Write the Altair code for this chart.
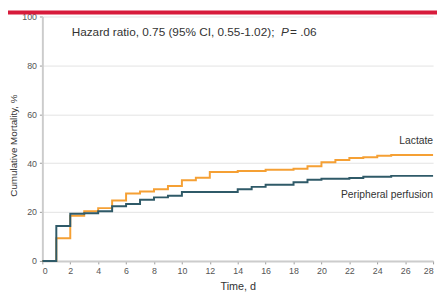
import altair as alt
import pandas as pd

pp_days = [0, 1, 2, 3, 4, 5, 6, 7, 8, 9, 10, 14, 15, 16, 18, 19, 20, 22, 23, 25, 28]
pp_vals = [0, 14.3, 19.3, 19.5, 20.3, 22.4, 23.3, 25.0, 26.0, 26.7, 28.2, 29.3, 30.3, 31.2, 32.2, 33.2, 33.6, 33.9, 34.4, 34.8, 34.8]

lac_days = [0, 1, 2, 3, 4, 5, 6, 7, 8, 9, 10, 11, 12, 14, 16, 18, 19, 20, 21, 22, 23, 24, 25, 28]
lac_vals = [0, 9.3, 18.5, 20.3, 21.6, 24.7, 27.6, 28.4, 29.3, 30.7, 33.0, 34.0, 36.4, 36.8, 37.3, 37.7, 38.7, 40.4, 41.3, 42.1, 42.4, 43.0, 43.3, 43.3]

x_ticks = list(range(0, 29, 2))
y_ticks = [0, 20, 40, 60, 80, 100]

FONT = "Liberation Sans, Arial, sans-serif"
ORANGE = "#f5a034"
TEAL = "#2f5a68"

df = pd.concat([
    pd.DataFrame({"day": lac_days, "val": lac_vals, "grp": "Lactate"}),
    pd.DataFrame({"day": pp_days, "val": pp_vals, "grp": "Peripheral perfusion"}),
])

xs = alt.Scale(domain=[0, 28], nice=False)
ys = alt.Scale(domain=[0, 100], nice=False)

x_axis = alt.Axis(
    values=x_ticks, title="Time, d", grid=False, labelFontSize=9, titleFontSize=11,
    labelOverlap=False, labelColor="#555", titleColor="#333", domainColor="#ccc", domainWidth=2,
    tickColor="#999", tickSize=3, labelPadding=3, titlePadding=5, labelFont=FONT, titleFont=FONT,
    titleFontWeight="normal")
y_axis = alt.Axis(
    values=y_ticks, title="Cumulative Mortality, %", grid=True, gridColor="#e2e2e2",
    labelFontSize=9, titleFontSize=10, labelColor="#555", titleColor="#333",
    domainColor="#ccc", domainWidth=2, tickColor="#999", tickSize=3, labelPadding=3,
    titleX=-29.5, titleY=131, titleBaseline="middle", titleAlign="center",
    labelFont=FONT, titleFont=FONT, titleFontWeight="normal")

def tx():
    return alt.X("day:Q", scale=xs, axis=x_axis)

def ty():
    return alt.Y("val:Q", scale=ys, axis=y_axis)

lines = alt.Chart(df).mark_line(interpolate="step-after", strokeWidth=2).encode(
    x=tx(), y=ty(),
    color=alt.Color("grp:N", scale=alt.Scale(domain=["Lactate", "Peripheral perfusion"], range=[ORANGE, TEAL]), legend=None),
)

lab_df = pd.DataFrame({"day": [28, 28], "val": [49.0, 27.0], "txt": ["Lactate", "Peripheral perfusion"]})
labels = alt.Chart(lab_df).mark_text(align="right", baseline="middle", font=FONT, fontSize=10.5, color="#333").encode(
    x=tx(), y=ty(), text="txt:N")

ann1 = alt.Chart(pd.DataFrame({"day": [2.1], "val": [93.5], "txt": ["Hazard ratio, 0.75 (95% CI, 0.55-1.02);"]})).mark_text(
    align="left", baseline="middle", font=FONT, fontSize=12, color="#333").encode(
    x=tx(), y=ty(), text="txt:N")
ann2 = alt.Chart(pd.DataFrame({"day": [17.1], "val": [93.5], "txt": ["P"]})).mark_text(
    align="left", baseline="middle", font=FONT, fontSize=12, fontStyle="italic", color="#333").encode(
    x=tx(), y=ty(), text="txt:N")
ann3 = alt.Chart(pd.DataFrame({"day": [17.75], "val": [93.5], "txt": ["= .06"]})).mark_text(
    align="left", baseline="middle", font=FONT, fontSize=12, color="#333").encode(
    x=tx(), y=ty(), text="txt:N")

red = alt.Chart(pd.DataFrame({"a": [0]})).mark_rect(color="#d71b3b").encode(
    x=alt.value(-40), x2=alt.value(410), y=alt.value(-6), y2=alt.value(-2))

chart = alt.layer(lines, labels, ann1, ann2, ann3, red).properties(
    width=398, height=249,
    autosize=alt.AutoSizeParams(type="none"),
    padding={"left": 35, "top": 6, "right": 4, "bottom": 30},
).configure_view(stroke=None).configure_axis(labelOverlap=False)

chart.save("out.html", embed_options={"renderer": "svg", "actions": False})
